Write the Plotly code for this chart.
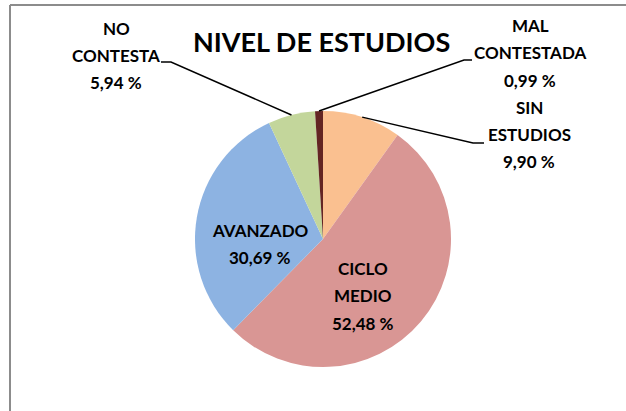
import math
import plotly.graph_objects as go

# ---- data ----
categories = ["SIN ESTUDIOS", "CICLO MEDIO", "AVANZADO", "NO CONTESTA", "MAL CONTESTADA"]
counts = [10, 53, 31, 6, 1]
colors = ["#FAC090", "#D99694", "#8DB3E2", "#C3D69B", "#632523"]
title_text = "NIVEL DE ESTUDIOS"
label_lines = {
    "SIN ESTUDIOS": ["SIN", "ESTUDIOS"],
    "CICLO MEDIO": ["CICLO", "MEDIO"],
    "AVANZADO": ["AVANZADO"],
    "NO CONTESTA": ["NO", "CONTESTA"],
    "MAL CONTESTADA": ["MAL", "CONTESTADA"],
}

# ---- layout constants (pixels) ----
W, H = 626, 411
CX, CY, R = 323, 239, 128
FONT = "Lato"
LINE_SP = 27.5

# label block: (center x, first line center y)
label_pos = {
    "SIN ESTUDIOS": (529, 107),
    "CICLO MEDIO": (363, 268),
    "AVANZADO": (260, 230),
    "NO CONTESTA": (116, 28),
    "MAL CONTESTADA": (530, 25),
}
# leader-line elbows (from text toward slice)
leader_elbows = {
    "SIN ESTUDIOS": [(484, 143), (473, 143)],
    "NO CONTESTA": [(161, 62), (171, 62)],
    "MAL CONTESTADA": [(472, 60), (464, 60)],
}


def px(x):
    return x / W


def py(y):
    return 1 - y / H


total = sum(counts)
pcts = [c / total * 100 for c in counts]


def fmt(p):
    return f"{p:.2f}".replace(".", ",") + " %"


fig = go.Figure(
    go.Pie(
        labels=categories,
        values=counts,
        sort=False,
        direction="clockwise",
        rotation=0,
        marker=dict(colors=colors, line=dict(width=0)),
        textinfo="none",
        hoverinfo="label+percent",
        showlegend=False,
        domain=dict(x=[px(CX - R), px(CX + R)], y=[py(CY + R), py(CY - R)]),
    )
)

annotations = []
# title
annotations.append(dict(
    text=title_text, x=px(321), y=py(42), xref="paper", yref="paper",
    xanchor="center", yanchor="middle", showarrow=False,
    font=dict(family=FONT, size=27, color="black", weight="bold"),
))

shapes = []
cum = 0
for cat, c, p in zip(categories, counts, pcts):
    lines = label_lines[cat] + [fmt(p)]
    x0, y0 = label_pos[cat]
    for i, t in enumerate(lines):
        annotations.append(dict(
            text=t, x=px(x0), y=py(y0 + i * LINE_SP), xref="paper", yref="paper",
            xanchor="center", yanchor="middle", showarrow=False,
            font=dict(family=FONT, size=17, color="black", weight="bold"),
        ))
    theta = 2 * math.pi * (cum + c / 2) / total
    ex, ey = CX + R * math.sin(theta), CY - R * math.cos(theta)
    if cat in leader_elbows:
        pts = leader_elbows[cat] + [(ex, ey)]
        path = "M " + " L ".join(f"{px(a)} {py(b)}" for a, b in pts)
        shapes.append(dict(type="path", path=path, xref="paper", yref="paper",
                           line=dict(color="black", width=1.5)))
    cum += c

# chart frame (top and left edges visible)
shapes.append(dict(type="line", xref="paper", yref="paper",
                   x0=px(10), y0=py(5), x1=px(W), y1=py(5),
                   line=dict(color="#8C8C8C", width=2)))
shapes.append(dict(type="line", xref="paper", yref="paper",
                   x0=px(10), y0=py(5), x1=px(10), y1=py(H),
                   line=dict(color="#8C8C8C", width=2)))

fig.update_layout(
    width=W, height=H, autosize=False,
    margin=dict(l=0, r=0, t=0, b=0),
    paper_bgcolor="white", plot_bgcolor="white",
    annotations=annotations, shapes=shapes,
)

fig.write_html(
    "out.html",
    config={"displayModeBar": False},
    post_script="document.body.style.margin='0';document.body.style.overflow='hidden';",
)
